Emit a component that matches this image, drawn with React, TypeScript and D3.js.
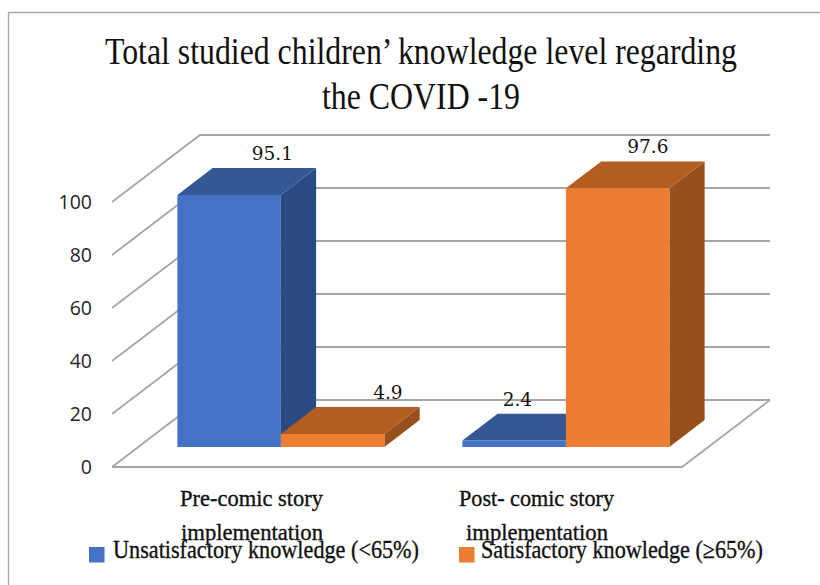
import { useEffect, useRef } from 'react'
import * as d3 from 'd3'

const categories = ['Pre-comic story', 'Post- comic story']
const seriesNames = ['Unsatisfactory knowledge (<65%)', 'Satisfactory knowledge (≥65%)']
const unsatisfactory = [95.1, 2.4]
const satisfactory = [4.9, 97.6]
const yTicks = [0, 20, 40, 60, 80, 100]

const W = 820
const H = 585
const SERIF = '"Liberation Serif", serif'

const FACES = [
  { front: '#4472c4', top: '#345895', side: '#2b4a82' },
  { front: '#ed7d31', top: '#b35d21', side: '#974f1b' },
]
// label offsets from the centre of each bar's top, the chart placed them by hand
const LABEL_NUDGE = [[8, -32], [20, -5]]

export default function App() {
  const svgRef = useRef<SVGSVGElement>(null)

  useEffect(() => {
    const svg = svgRef.current
    if (!svg) return
    const sel = d3.select(svg)
    sel.selectAll('*').remove()

    const x = d3.scaleBand<string>().domain(categories).range([112, 682])
    const y = d3.scaleLinear().domain([0, 100]).range([467, 202])
    // oblique projection: depth 0 = front of floor, 1 = back wall
    const depthX = d3.scaleLinear().domain([0, 1]).range([0, 88])
    const depthY = d3.scaleLinear().domain([0, 1]).range([0, -67])
    const pt = (px: number, v: number, d: number): [number, number] => [px + depthX(d), y(v) + depthY(d)]
    const poly = d3.line()

    const GRID = '#a6a6a6'

    // chart frame
    sel.append('path').attr('d', `M8.5,${H}V12.5H${W}`).attr('fill', 'none').attr('stroke', GRID).attr('stroke-width', 1.3)

    // title
    const title = [
      { t: 'Total studied children’ knowledge level regarding', x: 105, w: 632, y: 64 },
      { t: 'the COVID -19', x: 322, w: 198, y: 109 },
    ]
    title.forEach(l => {
      sel.append('text').attr('x', l.x).attr('y', l.y)
        .attr('textLength', l.w).attr('lengthAdjust', 'spacingAndGlyphs')
        .attr('font-family', SERIF).attr('font-size', 38).attr('fill', '#111')
        .text(l.t)
    })

    // walls and floor
    const gridG = sel.append('g').attr('fill', 'none').attr('stroke', GRID).attr('stroke-width', 1.8)
    yTicks.forEach(v => {
      gridG.append('path').attr('d', poly([pt(112, v, 0), pt(112, v, 1), pt(682, v, 1)]))
    })
    gridG.append('path').attr('d', poly([pt(112, 0, 0), pt(682, 0, 0), pt(682, 0, 1)]))

    // y axis labels
    yTicks.forEach(v => {
      sel.append('text').attr('x', 92).attr('y', y(v) + 7)
        .attr('text-anchor', 'end').attr('font-family', '"Open Sans", sans-serif')
        .attr('font-size', 19.5).attr('fill', '#262626')
        .text(v)
    })

    // bars
    const BAR_W = 103.5
    const d0 = 0.3
    const d1 = 0.7
    const groups = categories.map((c, i) => ({ c, vals: [unsatisfactory[i], satisfactory[i]] }))
    groups.forEach(g => {
      const cx = (x(g.c) ?? 0) + x.bandwidth() / 2
      g.vals.forEach((v, si) => {
        const x0 = cx - BAR_W + si * BAR_W
        const x1 = x0 + BAR_W
        const f = FACES[si]
        sel.append('path').attr('fill', f.side).attr('d', poly([pt(x1, 0, d0), pt(x1, 0, d1), pt(x1, v, d1), pt(x1, v, d0)]) + 'Z')
        sel.append('path').attr('fill', f.top).attr('d', poly([pt(x0, v, d0), pt(x1, v, d0), pt(x1, v, d1), pt(x0, v, d1)]) + 'Z')
        sel.append('path').attr('fill', f.front).attr('d', poly([pt(x0, 0, d0), pt(x1, 0, d0), pt(x1, v, d0), pt(x0, v, d0)]) + 'Z')
      })
    })

    // data labels
    groups.forEach((g, gi) => {
      const cx = (x(g.c) ?? 0) + x.bandwidth() / 2
      g.vals.forEach((v, si) => {
        const mid = cx - BAR_W / 2 + si * BAR_W
        const [lx, ly] = pt(mid, v, d1)
        sel.append('text').attr('x', lx + LABEL_NUDGE[si][gi]).attr('y', ly - 8)
          .attr('text-anchor', 'middle').attr('font-family', '"DejaVu Serif", serif')
          .attr('font-size', 18.5).attr('fill', '#111')
          .text(v)
      })
    })

    // category labels
    const catX = [{ x: 180, w: 143 }, { x: 459, w: 155 }]
    const implX = [{ x: 181, w: 142 }, { x: 466, w: 142 }]
    categories.forEach((c, i) => {
      sel.append('text').attr('x', catX[i].x).attr('y', 506)
        .attr('textLength', catX[i].w).attr('lengthAdjust', 'spacingAndGlyphs')
        .attr('font-family', SERIF).attr('font-size', 23).attr('fill', '#111')
        .attr('stroke', '#111').attr('stroke-width', 0.35).text(c)
      sel.append('text').attr('x', implX[i].x).attr('y', 540)
        .attr('textLength', implX[i].w).attr('lengthAdjust', 'spacingAndGlyphs')
        .attr('font-family', SERIF).attr('font-size', 23).attr('fill', '#111')
        .attr('stroke', '#111').attr('stroke-width', 0.35).text('implementation')
    })

    // legend
    const legendPos = [{ sx: 89, tx: 113, w: 306 }, { sx: 459, tx: 481, w: 282 }]
    seriesNames.forEach((n, i) => {
      sel.append('rect').attr('x', legendPos[i].sx).attr('y', 547).attr('width', 15.5).attr('height', 15.5).attr('fill', FACES[i].front)
      sel.append('text').attr('x', legendPos[i].tx).attr('y', 558)
        .attr('textLength', legendPos[i].w).attr('lengthAdjust', 'spacingAndGlyphs')
        .attr('font-family', SERIF).attr('font-size', 25).attr('fill', '#111')
        .attr('stroke', '#111').attr('stroke-width', 0.35).text(n)
    })
  }, [])

  return (
    <svg
      ref={svgRef}
      width={W}
      height={H}
      style={{ position: 'absolute', left: 0, top: 0, display: 'block', background: '#fff' }}
    />
  )
}
